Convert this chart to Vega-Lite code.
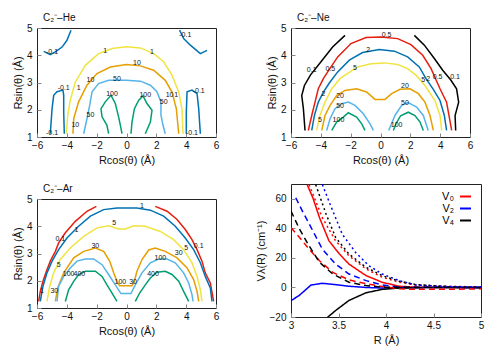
{
"$schema": "https://vega.github.io/schema/vega-lite/v6.json",
"padding": {"left": 11, "top": 12, "right": 5, "bottom": 2},
"config": {
  "font": "Liberation Sans",
  "view": {"stroke": "#222", "strokeWidth": 1},
  "axis": {"domain": false, "grid": false, "tickColor": "#888", "tickSize": -4, "labelFontSize": 10, "labelColor": "#111", "labelOverlap": false, "labelFlush": false, "titleFontSize": 11, "titleFontWeight": "normal", "titleColor": "#111", "labelPadding": 7, "titlePadding": 4},
  "axisY": {"labelPadding": 9, "titlePadding": 3},
  "title": {"fontSize": 10, "fontWeight": "normal", "anchor": "start", "frame": "group", "color": "#111"}
},
"datasets": {
"he": [
{"g":"a","c":"-0.1","x":-5.55,"y":4.14},{"g":"a","c":"-0.1","x":-5.11,"y":4.02},{"g":"a","c":"-0.1","x":-4.77,"y":4.12},{"g":"a","c":"-0.1","x":-4.32,"y":4.3},{"g":"a","c":"-0.1","x":-3.99,"y":4.55},{"g":"a","c":"-0.1","x":-3.72,"y":4.92},
{"g":"b","c":"-0.1","x":3.56,"y":4.92},{"g":"b","c":"-0.1","x":3.83,"y":4.61},{"g":"b","c":"-0.1","x":4.28,"y":4.37},{"g":"b","c":"-0.1","x":4.95,"y":4.06},{"g":"b","c":"-0.1","x":5.4,"y":4.18},
{"g":"c","c":"-0.1","x":-5.11,"y":1.12},{"g":"c","c":"-0.1","x":-4.99,"y":2.04},{"g":"c","c":"-0.1","x":-4.88,"y":2.53},{"g":"c","c":"-0.1","x":-4.66,"y":2.66},{"g":"c","c":"-0.1","x":-4.26,"y":2.72},{"g":"c","c":"-0.1","x":-4.21,"y":2.53},{"g":"c","c":"-0.1","x":-4.21,"y":1.92},{"g":"c","c":"-0.1","x":-4.17,"y":1.12},
{"g":"d","c":"-0.1","x":4.01,"y":1.12},{"g":"d","c":"-0.1","x":4.01,"y":1.92},{"g":"d","c":"-0.1","x":4.06,"y":2.66},{"g":"d","c":"-0.1","x":4.39,"y":2.72},{"g":"d","c":"-0.1","x":4.73,"y":2.59},{"g":"d","c":"-0.1","x":4.84,"y":2.04},{"g":"d","c":"-0.1","x":4.95,"y":1.12},
{"g":"e","c":"1","x":-4.03,"y":1.12},{"g":"e","c":"1","x":-3.94,"y":1.8},{"g":"e","c":"1","x":-3.77,"y":2.35},{"g":"e","c":"1","x":-3.43,"y":3.02},{"g":"e","c":"1","x":-2.76,"y":3.63},{"g":"e","c":"1","x":-1.87,"y":4.06},{"g":"e","c":"1","x":-0.97,"y":4.25},{"g":"e","c":"1","x":-0.01,"y":4.31},{"g":"e","c":"1","x":0.93,"y":4.27},{"g":"e","c":"1","x":1.82,"y":4.06},{"g":"e","c":"1","x":2.49,"y":3.76},{"g":"e","c":"1","x":3.05,"y":3.27},{"g":"e","c":"1","x":3.5,"y":2.65},{"g":"e","c":"1","x":3.72,"y":2.04},{"g":"e","c":"1","x":3.79,"y":1.12},
{"g":"f","c":"10","x":-3.59,"y":1.12},{"g":"f","c":"10","x":-3.54,"y":1.67},{"g":"f","c":"10","x":-3.21,"y":2.29},{"g":"f","c":"10","x":-2.65,"y":2.9},{"g":"f","c":"10","x":-1.98,"y":3.33},{"g":"f","c":"10","x":-1.08,"y":3.57},{"g":"f","c":"10","x":-0.01,"y":3.66},{"g":"f","c":"10","x":0.93,"y":3.61},{"g":"f","c":"10","x":1.82,"y":3.45},{"g":"f","c":"10","x":2.6,"y":3.08},{"g":"f","c":"10","x":3.05,"y":2.65},{"g":"f","c":"10","x":3.34,"y":2.04},{"g":"f","c":"10","x":3.5,"y":1.12},
{"g":"h","c":"50","x":-2.87,"y":1.12},{"g":"h","c":"50","x":-2.65,"y":1.67},{"g":"h","c":"50","x":-2.47,"y":2.16},{"g":"h","c":"50","x":-2.31,"y":2.66},{"g":"h","c":"50","x":-1.87,"y":2.96},{"g":"h","c":"50","x":-1.2,"y":3.08},{"g":"h","c":"50","x":-0.01,"y":3.08},{"g":"h","c":"50","x":0.93,"y":3.05},{"g":"h","c":"50","x":1.6,"y":2.9},{"g":"h","c":"50","x":2.04,"y":2.66},{"g":"h","c":"50","x":2.31,"y":2.29},{"g":"h","c":"50","x":2.31,"y":1.8},{"g":"h","c":"50","x":2.45,"y":1.43},{"g":"h","c":"50","x":2.6,"y":1.12},
{"g":"i","c":"100","x":-1.2,"y":1.12},{"g":"i","c":"100","x":-1.31,"y":1.43},{"g":"i","c":"100","x":-1.64,"y":1.74},{"g":"i","c":"100","x":-1.71,"y":2.04},{"g":"i","c":"100","x":-1.42,"y":2.29},{"g":"i","c":"100","x":-1.04,"y":2.53},{"g":"i","c":"100","x":-0.75,"y":2.23},{"g":"i","c":"100","x":-0.53,"y":1.74},{"g":"i","c":"100","x":-0.41,"y":1.43},{"g":"i","c":"100","x":-0.3,"y":1.12},
{"g":"j","c":"100","x":0.3,"y":1.12},{"g":"j","c":"100","x":0.37,"y":1.55},{"g":"j","c":"100","x":0.53,"y":2.04},{"g":"j","c":"100","x":0.82,"y":2.35},{"g":"j","c":"100","x":1.11,"y":2.51},{"g":"j","c":"100","x":1.37,"y":2.23},{"g":"j","c":"100","x":1.71,"y":1.98},{"g":"j","c":"100","x":1.6,"y":1.55},{"g":"j","c":"100","x":1.26,"y":1.12}
],
"helab": [
{"t":"-0.1","x":-4.99,"y":4.12},{"t":"-0.1","x":3.94,"y":4.73},{"t":"1","x":-1.42,"y":4.15},{"t":"1","x":1.71,"y":4.12},{"t":"10","x":0.7,"y":3.72},{"t":"10","x":-2.42,"y":3.11},{"t":"50","x":-0.64,"y":3.14},{"t":"-0.1","x":-4.21,"y":2.8},{"t":"1","x":-3.21,"y":2.78},{"t":"-0.1","x":4.84,"y":2.68},{"t":"100","x":-0.97,"y":2.56},{"t":"100","x":1.26,"y":2.53},{"t":"10","x":2.89,"y":2.53},{"t":"1","x":3.34,"y":2.53},{"t":"50","x":2.49,"y":2.29},{"t":"50","x":-2.42,"y":1.82},{"t":"10","x":-3.43,"y":1.43},{"t":"-0.1","x":-4.99,"y":1.16},{"t":"-0.1","x":4.39,"y":1.16}
],
"ne": [
{"g":"a","c":"0.1","x":-2.38,"y":4.73},{"g":"a","c":"0.1","x":-3.21,"y":4.3},{"g":"a","c":"0.1","x":-3.99,"y":3.76},{"g":"a","c":"0.1","x":-4.7,"y":3.27},{"g":"a","c":"0.1","x":-5.1,"y":2.89},{"g":"a","c":"0.1","x":-5.28,"y":2.52},{"g":"a","c":"0.1","x":-5.17,"y":2.04},{"g":"a","c":"0.1","x":-5.06,"y":1.24},
{"g":"b","c":"0.1","x":2.27,"y":4.73},{"g":"b","c":"0.1","x":2.94,"y":4.37},{"g":"b","c":"0.1","x":3.61,"y":3.88},{"g":"b","c":"0.1","x":4.17,"y":3.45},{"g":"b","c":"0.1","x":4.7,"y":3.1},{"g":"b","c":"0.1","x":5.1,"y":2.77},{"g":"b","c":"0.1","x":5.24,"y":2.28},{"g":"b","c":"0.1","x":5.0,"y":1.79},{"g":"b","c":"0.1","x":5.04,"y":1.24},
{"g":"c","c":"0.5","x":-4.84,"y":1.24},{"g":"c","c":"0.5","x":-4.61,"y":1.79},{"g":"c","c":"0.5","x":-4.39,"y":2.28},{"g":"c","c":"0.5","x":-4.17,"y":2.77},{"g":"c","c":"0.5","x":-3.83,"y":3.14},{"g":"c","c":"0.5","x":-3.54,"y":3.39},{"g":"c","c":"0.5","x":-2.87,"y":3.94},{"g":"c","c":"0.5","x":-1.98,"y":4.43},{"g":"c","c":"0.5","x":-0.97,"y":4.65},{"g":"c","c":"0.5","x":0.03,"y":4.67},{"g":"c","c":"0.5","x":1.15,"y":4.61},{"g":"c","c":"0.5","x":2.04,"y":4.39},{"g":"c","c":"0.5","x":2.83,"y":4.0},{"g":"c","c":"0.5","x":3.39,"y":3.51},{"g":"c","c":"0.5","x":3.72,"y":3.1},{"g":"c","c":"0.5","x":3.99,"y":2.77},{"g":"c","c":"0.5","x":4.43,"y":2.28},{"g":"c","c":"0.5","x":4.59,"y":1.79},{"g":"c","c":"0.5","x":4.77,"y":1.24},
{"g":"d","c":"2","x":-4.61,"y":1.24},{"g":"d","c":"2","x":-4.43,"y":1.79},{"g":"d","c":"2","x":-4.17,"y":2.28},{"g":"d","c":"2","x":-3.83,"y":2.65},{"g":"d","c":"2","x":-3.43,"y":2.98},{"g":"d","c":"2","x":-2.87,"y":3.39},{"g":"d","c":"2","x":-2.09,"y":3.82},{"g":"d","c":"2","x":-1.2,"y":4.1},{"g":"d","c":"2","x":-0.08,"y":4.21},{"g":"d","c":"2","x":0.93,"y":4.15},{"g":"d","c":"2","x":1.82,"y":3.94},{"g":"d","c":"2","x":2.6,"y":3.57},{"g":"d","c":"2","x":3.05,"y":3.14},{"g":"d","c":"2","x":3.54,"y":2.75},{"g":"d","c":"2","x":3.99,"y":2.34},{"g":"d","c":"2","x":4.28,"y":1.79},{"g":"d","c":"2","x":4.43,"y":1.24},
{"g":"e","c":"5","x":-4.28,"y":1.24},{"g":"e","c":"5","x":-4.06,"y":1.79},{"g":"e","c":"5","x":-3.72,"y":2.28},{"g":"e","c":"5","x":-3.27,"y":2.77},{"g":"e","c":"5","x":-2.7,"y":3.15},{"g":"e","c":"5","x":-1.53,"y":3.57},{"g":"e","c":"5","x":-0.64,"y":3.69},{"g":"e","c":"5","x":0.26,"y":3.72},{"g":"e","c":"5","x":1.15,"y":3.66},{"g":"e","c":"5","x":1.82,"y":3.51},{"g":"e","c":"5","x":2.38,"y":3.27},{"g":"e","c":"5","x":2.98,"y":2.89},{"g":"e","c":"5","x":3.65,"y":2.34},{"g":"e","c":"5","x":3.99,"y":1.79},{"g":"e","c":"5","x":4.1,"y":1.24},
{"g":"f","c":"20","x":-3.94,"y":1.24},{"g":"f","c":"20","x":-3.72,"y":1.79},{"g":"f","c":"20","x":-3.38,"y":2.16},{"g":"f","c":"20","x":-2.94,"y":2.52},{"g":"f","c":"20","x":-2.38,"y":2.71},{"g":"f","c":"20","x":-1.6,"y":2.77},{"g":"f","c":"20","x":-0.93,"y":2.65},{"g":"f","c":"20","x":-0.37,"y":2.38},{"g":"f","c":"20","x":0.3,"y":2.38},{"g":"f","c":"20","x":0.75,"y":2.59},{"g":"f","c":"20","x":1.31,"y":2.75},{"g":"f","c":"20","x":1.98,"y":2.77},{"g":"f","c":"20","x":2.54,"y":2.59},{"g":"f","c":"20","x":2.98,"y":2.28},{"g":"f","c":"20","x":3.32,"y":1.79},{"g":"f","c":"20","x":3.54,"y":1.24},
{"g":"h","c":"50","x":-3.61,"y":1.24},{"g":"h","c":"50","x":-3.38,"y":1.67},{"g":"h","c":"50","x":-3.05,"y":2.04},{"g":"h","c":"50","x":-2.6,"y":2.22},{"g":"h","c":"50","x":-2.16,"y":2.28},{"g":"h","c":"50","x":-1.71,"y":2.16},{"g":"h","c":"50","x":-1.15,"y":1.85},{"g":"h","c":"50","x":-0.7,"y":1.48},{"g":"h","c":"50","x":-0.48,"y":1.24},
{"g":"i","c":"50","x":0.55,"y":1.24},{"g":"i","c":"50","x":0.97,"y":1.79},{"g":"i","c":"50","x":1.42,"y":2.16},{"g":"i","c":"50","x":1.86,"y":2.26},{"g":"i","c":"50","x":2.42,"y":2.1},{"g":"i","c":"50","x":2.87,"y":1.79},{"g":"i","c":"50","x":3.2,"y":1.24},
{"g":"j","c":"100","x":-3.27,"y":1.24},{"g":"j","c":"100","x":-2.94,"y":1.55},{"g":"j","c":"100","x":-2.49,"y":1.73},{"g":"j","c":"100","x":-2.16,"y":1.89},{"g":"j","c":"100","x":-1.6,"y":1.73},{"g":"j","c":"100","x":-1.26,"y":1.48},{"g":"j","c":"100","x":-1.04,"y":1.24},
{"g":"k","c":"100","x":0.86,"y":1.24},{"g":"k","c":"100","x":1.05,"y":1.5},{"g":"k","c":"100","x":1.35,"y":1.78},{"g":"k","c":"100","x":1.86,"y":1.91},{"g":"k","c":"100","x":2.31,"y":1.79},{"g":"k","c":"100","x":2.65,"y":1.55},{"g":"k","c":"100","x":2.87,"y":1.24}
],
"nelab": [
{"t":"0.5","x":0.41,"y":4.76},{"t":"2","x":-0.82,"y":4.21},{"t":"5","x":-1.71,"y":3.54},{"t":"0.1","x":-4.61,"y":3.45},{"t":"0.5","x":-3.36,"y":3.48},{"t":"2","x":-3.83,"y":2.59},{"t":"20","x":-2.71,"y":2.52},{"t":"50","x":-2.71,"y":2.13},{"t":"5","x":-4.06,"y":1.64},{"t":"100","x":-2.82,"y":1.64},{"t":"20","x":1.64,"y":2.86},{"t":"50","x":1.64,"y":2.26},{"t":"100","x":1.08,"y":1.45},{"t":"5","x":2.87,"y":3.11},{"t":"2","x":3.2,"y":3.14},{"t":"0.5","x":3.83,"y":3.2},{"t":"0.1","x":5.0,"y":3.2}
],
"ar": [
{"g":"a","c":"0.1","x":-5.89,"y":1.24},{"g":"a","c":"0.1","x":-5.78,"y":1.61},{"g":"a","c":"0.1","x":-5.6,"y":1.98},{"g":"a","c":"0.1","x":-5.37,"y":2.35},{"g":"a","c":"0.1","x":-5.11,"y":2.72},{"g":"a","c":"0.1","x":-4.77,"y":3.08},{"g":"a","c":"0.1","x":-4.55,"y":3.39},{"g":"a","c":"0.1","x":-4.1,"y":3.76},{"g":"a","c":"0.1","x":-3.43,"y":4.18},{"g":"a","c":"0.1","x":-2.65,"y":4.55},{"g":"a","c":"0.1","x":-2.02,"y":4.73},
{"g":"b","c":"0.1","x":1.93,"y":4.73},{"g":"b","c":"0.1","x":2.72,"y":4.55},{"g":"b","c":"0.1","x":3.39,"y":4.25},{"g":"b","c":"0.1","x":3.94,"y":3.88},{"g":"b","c":"0.1","x":4.39,"y":3.51},{"g":"b","c":"0.1","x":4.73,"y":3.14},{"g":"b","c":"0.1","x":5.06,"y":2.72},{"g":"b","c":"0.1","x":5.28,"y":2.29},{"g":"b","c":"0.1","x":5.62,"y":1.92},{"g":"b","c":"0.1","x":5.84,"y":1.24},
{"g":"c","c":"1","x":-5.78,"y":1.24},{"g":"c","c":"1","x":-5.6,"y":1.8},{"g":"c","c":"1","x":-5.33,"y":2.29},{"g":"c","c":"1","x":-4.99,"y":2.72},{"g":"c","c":"1","x":-4.55,"y":3.14},{"g":"c","c":"1","x":-3.99,"y":3.57},{"g":"c","c":"1","x":-3.21,"y":4.0},{"g":"c","c":"1","x":-2.42,"y":4.37},{"g":"c","c":"1","x":-1.53,"y":4.61},{"g":"c","c":"1","x":-0.64,"y":4.67},{"g":"c","c":"1","x":0.7,"y":4.67},{"g":"c","c":"1","x":1.6,"y":4.59},{"g":"c","c":"1","x":2.49,"y":4.37},{"g":"c","c":"1","x":3.27,"y":4.0},{"g":"c","c":"1","x":3.94,"y":3.57},{"g":"c","c":"1","x":4.5,"y":3.14},{"g":"c","c":"1","x":4.95,"y":2.66},{"g":"c","c":"1","x":5.28,"y":2.16},{"g":"c","c":"1","x":5.62,"y":1.74},{"g":"c","c":"1","x":5.73,"y":1.24},
{"g":"d","c":"5","x":-5.33,"y":1.24},{"g":"d","c":"5","x":-5.15,"y":1.8},{"g":"d","c":"5","x":-4.88,"y":2.29},{"g":"d","c":"5","x":-4.44,"y":2.78},{"g":"d","c":"5","x":-3.77,"y":3.2},{"g":"d","c":"5","x":-2.87,"y":3.63},{"g":"d","c":"5","x":-1.98,"y":3.94},{"g":"d","c":"5","x":-1.2,"y":4.02},{"g":"d","c":"5","x":-0.53,"y":3.9},{"g":"d","c":"5","x":-0.08,"y":3.9},{"g":"d","c":"5","x":0.48,"y":4.02},{"g":"d","c":"5","x":1.26,"y":4.0},{"g":"d","c":"5","x":2.27,"y":3.81},{"g":"d","c":"5","x":3.16,"y":3.51},{"g":"d","c":"5","x":3.83,"y":3.14},{"g":"d","c":"5","x":4.39,"y":2.66},{"g":"d","c":"5","x":4.73,"y":2.16},{"g":"d","c":"5","x":4.95,"y":1.67},{"g":"d","c":"5","x":5.06,"y":1.24},
{"g":"e","c":"30","x":-4.77,"y":1.24},{"g":"e","c":"30","x":-4.61,"y":1.74},{"g":"e","c":"30","x":-4.21,"y":2.29},{"g":"e","c":"30","x":-3.54,"y":2.84},{"g":"e","c":"30","x":-2.87,"y":3.08},{"g":"e","c":"30","x":-2.09,"y":3.2},{"g":"e","c":"30","x":-1.53,"y":3.08},{"g":"e","c":"30","x":-1.13,"y":2.72},{"g":"e","c":"30","x":-0.86,"y":2.29},{"g":"e","c":"30","x":-0.64,"y":1.98},{"g":"e","c":"30","x":-0.46,"y":1.82},{"g":"e","c":"30","x":0.37,"y":1.82},{"g":"e","c":"30","x":0.53,"y":1.98},{"g":"e","c":"30","x":0.7,"y":2.35},{"g":"e","c":"30","x":1.04,"y":2.78},{"g":"e","c":"30","x":1.49,"y":3.13},{"g":"e","c":"30","x":1.93,"y":3.2},{"g":"e","c":"30","x":2.6,"y":3.08},{"g":"e","c":"30","x":3.39,"y":2.84},{"g":"e","c":"30","x":4.06,"y":2.47},{"g":"e","c":"30","x":4.5,"y":2.04},{"g":"e","c":"30","x":4.73,"y":1.61},{"g":"e","c":"30","x":4.84,"y":1.24},
{"g":"f","c":"100","x":-4.66,"y":1.24},{"g":"f","c":"100","x":-4.55,"y":1.8},{"g":"f","c":"100","x":-4.21,"y":2.16},{"g":"f","c":"100","x":-3.77,"y":2.47},{"g":"f","c":"100","x":-3.32,"y":2.72},{"g":"f","c":"100","x":-2.76,"y":2.8},{"g":"f","c":"100","x":-2.2,"y":2.8},{"g":"f","c":"100","x":-1.64,"y":2.59},{"g":"f","c":"100","x":-1.2,"y":2.23},{"g":"f","c":"100","x":-0.75,"y":1.85},{"g":"f","c":"100","x":-0.37,"y":1.53},{"g":"f","c":"100","x":0.3,"y":1.53},{"g":"f","c":"100","x":0.59,"y":1.85},{"g":"f","c":"100","x":1.04,"y":2.29},{"g":"f","c":"100","x":1.6,"y":2.66},{"g":"f","c":"100","x":2.16,"y":2.8},{"g":"f","c":"100","x":2.72,"y":2.8},{"g":"f","c":"100","x":3.27,"y":2.66},{"g":"f","c":"100","x":3.83,"y":2.29},{"g":"f","c":"100","x":4.17,"y":1.92},{"g":"f","c":"100","x":4.39,"y":1.49},{"g":"f","c":"100","x":4.46,"y":1.24},
{"g":"h","c":"400","x":-4.1,"y":1.24},{"g":"h","c":"400","x":-3.88,"y":1.67},{"g":"h","c":"400","x":-3.54,"y":1.98},{"g":"h","c":"400","x":-3.21,"y":2.23},{"g":"h","c":"400","x":-2.76,"y":2.35},{"g":"h","c":"400","x":-2.09,"y":2.35},{"g":"h","c":"400","x":-1.64,"y":2.16},{"g":"h","c":"400","x":-1.31,"y":1.85},{"g":"h","c":"400","x":-0.97,"y":1.55},{"g":"h","c":"400","x":-0.64,"y":1.24},
{"g":"i","c":"400","x":0.59,"y":1.24},{"g":"i","c":"400","x":0.88,"y":1.55},{"g":"i","c":"400","x":1.26,"y":1.85},{"g":"i","c":"400","x":1.6,"y":2.1},{"g":"i","c":"400","x":2.04,"y":2.31},{"g":"i","c":"400","x":2.6,"y":2.35},{"g":"i","c":"400","x":3.05,"y":2.23},{"g":"i","c":"400","x":3.5,"y":1.98},{"g":"i","c":"400","x":3.83,"y":1.61},{"g":"i","c":"400","x":4.17,"y":1.24}
],
"arlab": [
{"t":"1","x":1.04,"y":4.76},{"t":"5","x":-0.82,"y":4.12},{"t":"0.1","x":-4.44,"y":3.53},{"t":"1","x":-3.36,"y":3.88},{"t":"30","x":-2.09,"y":3.29},{"t":"5","x":4.01,"y":3.2},{"t":"0.1","x":4.84,"y":3.26},{"t":"30","x":3.5,"y":3.02},{"t":"100","x":2.27,"y":2.84},{"t":"5","x":-4.55,"y":2.59},{"t":"100","x":-3.88,"y":2.23},{"t":"400","x":-3.16,"y":2.23},{"t":"100","x":-0.41,"y":1.96},{"t":"30","x":0.44,"y":1.96},{"t":"400","x":1.78,"y":2.25},{"t":"1","x":-5.66,"y":1.64},{"t":"30","x":-4.84,"y":1.64}
],
"vr": [
{"v":"V₀","s":"solid","r":3.17,"e":69.6},{"v":"V₀","s":"solid","r":3.23,"e":60.7},{"v":"V₀","s":"solid","r":3.3,"e":47.2},{"v":"V₀","s":"solid","r":3.4,"e":31.5},{"v":"V₀","s":"solid","r":3.51,"e":22.6},{"v":"V₀","s":"solid","r":3.61,"e":15.8},{"v":"V₀","s":"solid","r":3.79,"e":8.0},{"v":"V₀","s":"solid","r":3.96,"e":3.5},{"v":"V₀","s":"solid","r":4.14,"e":0.8},{"v":"V₀","s":"solid","r":4.31,"e":0.2},{"v":"V₀","s":"solid","r":4.5,"e":0},{"v":"V₀","s":"solid","r":5,"e":0},
{"v":"V₂","s":"solid","r":3,"e":-9},{"v":"V₂","s":"solid","r":3.09,"e":-5.2},{"v":"V₂","s":"solid","r":3.21,"e":1.6},{"v":"V₂","s":"solid","r":3.33,"e":2.8},{"v":"V₂","s":"solid","r":3.47,"e":1.9},{"v":"V₂","s":"solid","r":3.61,"e":0.8},{"v":"V₂","s":"solid","r":3.79,"e":0},{"v":"V₂","s":"solid","r":3.96,"e":-0.4},{"v":"V₂","s":"solid","r":4.14,"e":-0.3},{"v":"V₂","s":"solid","r":4.5,"e":0},{"v":"V₂","s":"solid","r":5,"e":0},
{"v":"V₄","s":"solid","r":3.38,"e":-20.5},{"v":"V₄","s":"solid","r":3.47,"e":-15.6},{"v":"V₄","s":"solid","r":3.61,"e":-8.8},{"v":"V₄","s":"solid","r":3.79,"e":-3.6},{"v":"V₄","s":"solid","r":3.96,"e":-1.3},{"v":"V₄","s":"solid","r":4.14,"e":-0.4},{"v":"V₄","s":"solid","r":4.5,"e":0},{"v":"V₄","s":"solid","r":5,"e":0},
{"v":"V₀","s":"dash","r":3,"e":40.5},{"v":"V₀","s":"dash","r":3.09,"e":33.8},{"v":"V₀","s":"dash","r":3.19,"e":25.9},{"v":"V₀","s":"dash","r":3.3,"e":18.1},{"v":"V₀","s":"dash","r":3.44,"e":10.2},{"v":"V₀","s":"dash","r":3.61,"e":5.1},{"v":"V₀","s":"dash","r":3.79,"e":2.5},{"v":"V₀","s":"dash","r":3.96,"e":0.7},{"v":"V₀","s":"dash","r":4.14,"e":-0.9},{"v":"V₀","s":"dash","r":4.31,"e":-1.3},{"v":"V₀","s":"dash","r":4.66,"e":-1.3},{"v":"V₀","s":"dash","r":5,"e":-0.9},
{"v":"V₂","s":"dash","r":3.05,"e":60.7},{"v":"V₂","s":"dash","r":3.12,"e":51.7},{"v":"V₂","s":"dash","r":3.23,"e":38.3},{"v":"V₂","s":"dash","r":3.33,"e":25.9},{"v":"V₂","s":"dash","r":3.47,"e":15.8},{"v":"V₂","s":"dash","r":3.61,"e":9.1},{"v":"V₂","s":"dash","r":3.79,"e":4.6},{"v":"V₂","s":"dash","r":3.96,"e":1.7},{"v":"V₂","s":"dash","r":4.14,"e":0.2},{"v":"V₂","s":"dash","r":5,"e":0},
{"v":"V₄","s":"dash","r":3,"e":51.7},{"v":"V₄","s":"dash","r":3.09,"e":39.4},{"v":"V₄","s":"dash","r":3.19,"e":28.2},{"v":"V₄","s":"dash","r":3.3,"e":17.0},{"v":"V₄","s":"dash","r":3.44,"e":9.1},{"v":"V₄","s":"dash","r":3.61,"e":3.5},{"v":"V₄","s":"dash","r":3.79,"e":1.3},{"v":"V₄","s":"dash","r":3.96,"e":0.2},{"v":"V₄","s":"dash","r":5,"e":0},
{"v":"V₀","s":"dot","r":3.19,"e":69.6},{"v":"V₀","s":"dot","r":3.33,"e":47.2},{"v":"V₀","s":"dot","r":3.47,"e":31.5},{"v":"V₀","s":"dot","r":3.61,"e":21.4},{"v":"V₀","s":"dot","r":3.79,"e":12.5},{"v":"V₀","s":"dot","r":3.96,"e":6.9},{"v":"V₀","s":"dot","r":4.14,"e":3.5},{"v":"V₀","s":"dot","r":4.31,"e":1.7},{"v":"V₀","s":"dot","r":4.66,"e":0.7},{"v":"V₀","s":"dot","r":5,"e":0.4},
{"v":"V₄","s":"dot","r":3.26,"e":69.6},{"v":"V₄","s":"dot","r":3.37,"e":49.5},{"v":"V₄","s":"dot","r":3.47,"e":33.8},{"v":"V₄","s":"dot","r":3.61,"e":22.6},{"v":"V₄","s":"dot","r":3.79,"e":13.6},{"v":"V₄","s":"dot","r":3.96,"e":8.0},{"v":"V₄","s":"dot","r":4.14,"e":4.2},{"v":"V₄","s":"dot","r":4.31,"e":2.0},{"v":"V₄","s":"dot","r":4.66,"e":0.5},{"v":"V₄","s":"dot","r":5,"e":0},
{"v":"V₂","s":"dot","r":3.33,"e":69.6},{"v":"V₂","s":"dot","r":3.44,"e":51.7},{"v":"V₂","s":"dot","r":3.54,"e":36.0},{"v":"V₂","s":"dot","r":3.68,"e":23.7},{"v":"V₂","s":"dot","r":3.82,"e":14.7},{"v":"V₂","s":"dot","r":3.96,"e":9.1},{"v":"V₂","s":"dot","r":4.14,"e":4.6},{"v":"V₂","s":"dot","r":4.31,"e":1.7},{"v":"V₂","s":"dot","r":4.66,"e":0.6},{"v":"V₂","s":"dot","r":5,"e":0.4}
]
},
"spacing": 34,
"hconcat": [
{"spacing": 17, "vconcat": [
{"title": {"text": "C₂⁻–He", "offset": 0, "dx": 6},
 "width": 179, "height": 109,
 "encoding": {
   "x": {"field": "x", "type": "quantitative", "scale": {"domain": [-6, 6], "nice": false}, "axis": {"values": [-6,-4,-2,0,2,4,6], "labelOverlap": false, "title": "Rcos(θ)  (Å)"}},
   "y": {"field": "y", "type": "quantitative", "scale": {"domain": [1, 5], "nice": false}, "axis": {"values": [1,2,3,4,5], "labelOverlap": false, "title": "Rsin(θ)  (Å)"}}},
 "layer": [
  {"data": {"name": "he"}, "mark": {"type": "line", "clip": true, "strokeWidth": 1.5},
   "encoding": {
    "color": {"field": "c", "type": "nominal", "scale": {"domain": ["-0.1","1","10","50","100"], "range": ["#0072b2","#f0e442","#e69f00","#56b4e9","#009e73"]}, "legend": null},
    "detail": {"field": "g"},
    "order": {"value": null}}},
  {"data": {"name": "helab"}, "mark": {"type": "text", "fontSize": 7, "color": "#111"},
   "encoding": {"text": {"field": "t"}}}
 ]},
{"title": {"text": "C₂⁻–Ar", "offset": 0, "dx": 6},
 "width": 179, "height": 109,
 "encoding": {
   "x": {"field": "x", "type": "quantitative", "scale": {"domain": [-6, 6], "nice": false}, "axis": {"values": [-6,-4,-2,0,2,4,6], "labelOverlap": false, "title": "Rcos(θ)  (Å)"}},
   "y": {"field": "y", "type": "quantitative", "scale": {"domain": [1, 5], "nice": false}, "axis": {"values": [1,2,3,4,5], "labelOverlap": false, "title": "Rsin(θ)  (Å)"}}},
 "layer": [
  {"data": {"name": "ar"}, "mark": {"type": "line", "clip": true, "strokeWidth": 1.5},
   "encoding": {
    "color": {"field": "c", "type": "nominal", "scale": {"domain": ["0.1","1","5","30","100","400"], "range": ["#e51e10","#0072b2","#f0e442","#e69f00","#56b4e9","#009e73"]}, "legend": null},
    "detail": {"field": "g"},
    "order": {"value": null}}},
  {"data": {"name": "arlab"}, "mark": {"type": "text", "fontSize": 7, "color": "#111"},
   "encoding": {"text": {"field": "t"}}}
 ]}
], "resolve": {"scale": {"color": "independent"}}},
{"spacing": 17, "vconcat": [
{"title": {"text": "C₂⁻–Ne", "offset": 0, "dx": 6},
 "width": 179, "height": 109,
 "encoding": {
   "x": {"field": "x", "type": "quantitative", "scale": {"domain": [-6, 6], "nice": false}, "axis": {"values": [-6,-4,-2,0,2,4,6], "labelOverlap": false, "title": "Rcos(θ)  (Å)"}},
   "y": {"field": "y", "type": "quantitative", "scale": {"domain": [1, 5], "nice": false}, "axis": {"values": [1,2,3,4,5], "labelOverlap": false, "title": "Rsin(θ)  (Å)"}}},
 "layer": [
  {"data": {"name": "ne"}, "mark": {"type": "line", "clip": true, "strokeWidth": 1.5},
   "encoding": {
    "color": {"field": "c", "type": "nominal", "scale": {"domain": ["0.1","0.5","2","5","20","50","100"], "range": ["#000000","#e51e10","#0072b2","#f0e442","#e69f00","#56b4e9","#009e73"]}, "legend": null},
    "detail": {"field": "g"},
    "order": {"value": null}}},
  {"data": {"name": "nelab"}, "mark": {"type": "text", "fontSize": 7, "color": "#111"},
   "encoding": {"text": {"field": "t"}}}
 ]},
{"width": 190, "height": 133,
 "data": {"name": "vr"},
 "mark": {"type": "line", "clip": true, "strokeWidth": 1.5},
 "encoding": {
  "x": {"field": "r", "type": "quantitative", "scale": {"domain": [3, 5], "nice": false}, "axis": {"values": [3,3.5,4,4.5,5], "format": "~g", "title": "R  (Å)"}},
  "y": {"field": "e", "type": "quantitative", "scale": {"domain": [-20, 70], "nice": false}, "axis": {"values": [-20,0,20,40,60], "title": "Vλ(R)  (cm⁻¹)"}},
  "color": {"field": "v", "type": "nominal", "scale": {"domain": ["V₀","V₂","V₄"], "range": ["#ff0000","#0000ff","#000000"]},
    "legend": {"title": null, "orient": "top-right", "symbolType": "stroke", "symbolStrokeWidth": 2, "symbolSize": 120, "labelFontSize": 11, "labelAlign": "right", "labelOffset": -18, "rowPadding": 0, "offset": 6}},
  "strokeDash": {"field": "s", "type": "nominal", "scale": {"domain": ["solid","dash","dot"], "range": [[1,0],[6,4],[2,3]]}, "legend": null},
  "order": {"value": null}}}
], "resolve": {"scale": {"color": "independent"}}}
],
"resolve": {"scale": {"color": "independent"}}
}
